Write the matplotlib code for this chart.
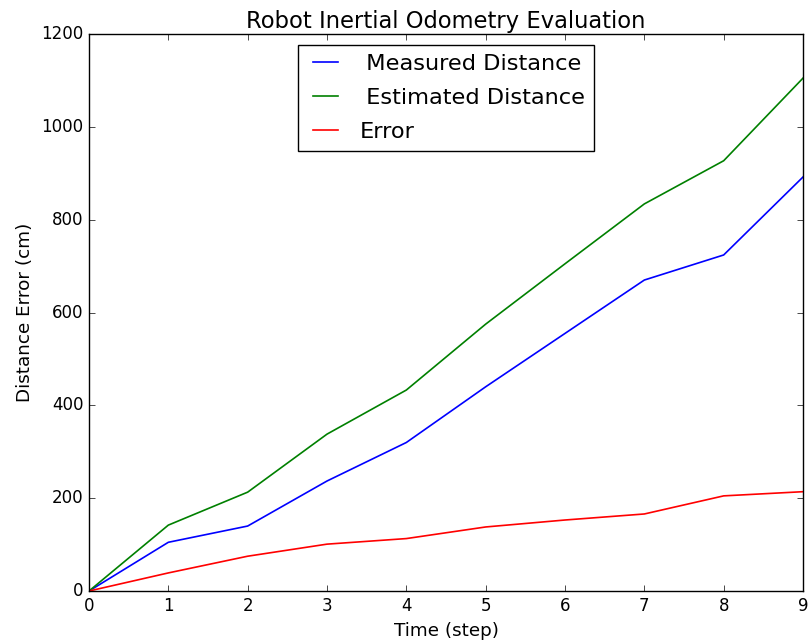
import matplotlib
matplotlib.use("Agg")
import matplotlib.pyplot as plt

# values
steps = [0, 1, 2, 3, 4, 5, 6, 7, 8, 9]
measured = [0, 105, 140, 237, 320, 440, 555, 670, 724, 892]
estimated = [0, 142, 213, 338, 433, 575, 705, 834, 927, 1105]
error = [0, 39, 75, 101, 113, 138, 153, 166, 205, 214]

plt.style.use('classic')
plt.rcParams['font.family'] = ['DejaVu Sans']

fig = plt.figure(figsize=(8.09, 6.42), dpi=100, facecolor='white')
ax = fig.add_axes([0.110, 0.0794, 0.8826, 0.8676])

ax.plot(steps, measured, color='b', lw=1.2, label=' Measured Distance')
ax.plot(steps, estimated, color='g', lw=1.2, label=' Estimated Distance')
ax.plot(steps, error, color='r', lw=1.2, label='Error')

ax.set_xlim(0, 9)
ax.set_ylim(0, 1200)
ax.tick_params(labelsize=12)
ax.set_title('Robot Inertial Odometry Evaluation', fontsize=16.3, pad=4)
ax.set_xlabel('Time (step)', fontsize=13.2)
ax.set_ylabel('Distance Error (cm)', fontsize=13.2)

ax.legend(loc='upper center', fontsize=16.2, handlelength=1.7,
          handletextpad=0.65, labelspacing=0.62)

fig.savefig('out.png', dpi=100, facecolor='white')
